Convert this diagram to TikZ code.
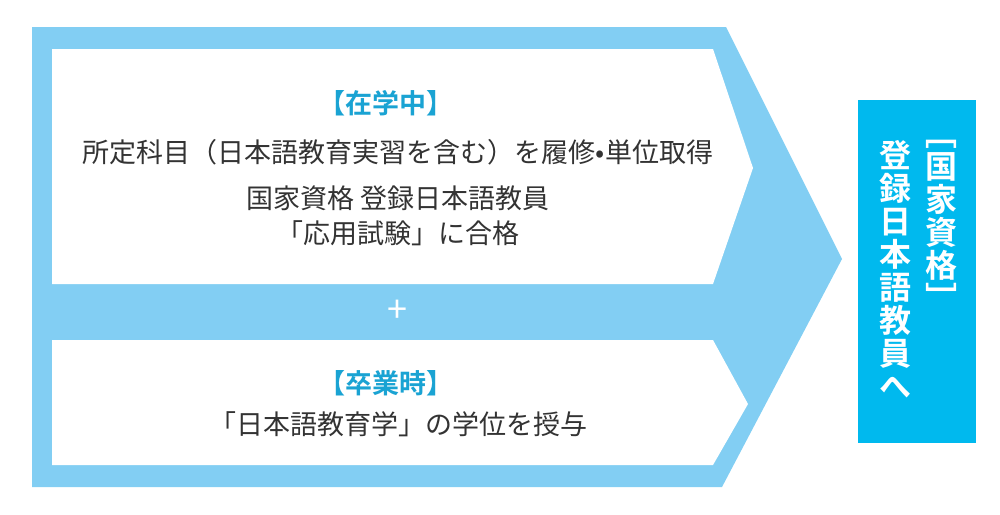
\documentclass[tikz,border=0pt]{standalone}
\usepackage{fontspec}
\setmainfont{Noto Sans CJK JP}
\newfontfamily\cjkb{Noto Sans CJK JP Bold}
\definecolor{lb}{HTML}{82CEF3}
\definecolor{bx}{HTML}{00B9EE}
\definecolor{hd}{HTML}{1AA3D3}
\definecolor{tx}{HTML}{333333}
\begin{document}
\begin{tikzpicture}[x=1pt,y=-1pt,
  txt/.style={text=tx,font=\fontsize{27}{30}\selectfont,inner sep=0},
  head/.style={text=hd,font=\cjkb\fontsize{27}{30}\selectfont,inner sep=0},
  vt/.style={text=white,font=\cjkb\fontsize{32}{33}\selectfont,align=center,inner sep=0,anchor=north}]
\useasboundingbox (0,0) rectangle (1000,514);
\fill[lb] (32,27) -- (726,27) -- (842,259) -- (722,487) -- (32,487) -- cycle;
\fill[white] (52,49) -- (713,49) -- (753,168) -- (713,284) -- (52,284) -- cycle;
\fill[white] (52,340) -- (713,340) -- (748,404) -- (713,465) -- (52,465) -- cycle;
\node[fill=bx,minimum width=118,minimum height=343,inner sep=0,anchor=north west] (box) at (858,100) {};
\node[head] (h1) at (386,103) {【在学中】};
\node[txt] (l1) at (398,152) {所定科目（日本語教育実習を含む）を履修•単位取得};
\node[txt] (l2) at (398,198) {国家資格 登録日本語教員};
\node[txt] (l3) at (398,233) {「応用試験」に合格};
\node[text=white,font=\fontsize{36}{36}\selectfont] (plus) at (397,311) {+};
\node[head] (h2) at (386,383) {【卒業時】};
\node[txt] (l4) at (398,424) {「日本語教育学」の学位を授与};
\node[vt] (c1) at (941,140) {﹇\\国\\家\\資\\格\\﹈};
\node[vt] (c2) at (895,140) {登\\録\\日\\本\\語\\教\\員\\へ};
\end{tikzpicture}
\end{document}
